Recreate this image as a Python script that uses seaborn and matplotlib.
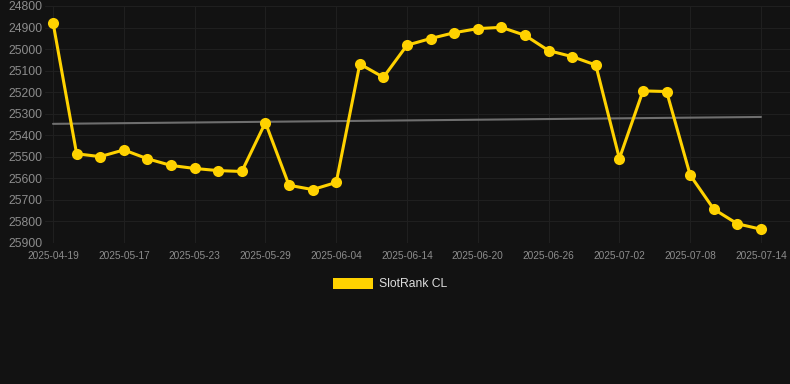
import numpy as np
import pandas as pd
import matplotlib
matplotlib.use("Agg")
import matplotlib.pyplot as plt
from matplotlib.patches import Patch
import seaborn as sns

dates = ["2025-04-19", "2025-05-13", "2025-05-15", "2025-05-17", "2025-05-19",
         "2025-05-21", "2025-05-23", "2025-05-25", "2025-05-27", "2025-05-29",
         "2025-05-31", "2025-06-02", "2025-06-04", "2025-06-08", "2025-06-11",
         "2025-06-14", "2025-06-16", "2025-06-18", "2025-06-20", "2025-06-22",
         "2025-06-24", "2025-06-26", "2025-06-28", "2025-06-30", "2025-07-02",
         "2025-07-04", "2025-07-06", "2025-07-08", "2025-07-10", "2025-07-12",
         "2025-07-14"]
rank = [24877, 25486, 25499, 25468, 25509, 25540, 25554, 25564, 25568, 25341,
        25632, 25652, 25619, 25069, 25131, 24982, 24951, 24924, 24905, 24899,
        24936, 25007, 25035, 25074, 25508, 25194, 25197, 25585, 25743, 25811,
        25836]
trend_ends = [25347, 25315]
y_ticks = [24800, 24900, 25000, 25100, 25200, 25300, 25400, 25500, 25600,
           25700, 25800, 25900]

df = pd.DataFrame({"i": np.arange(len(dates)), "date": dates, "rank": rank})

sns.set_style("dark")
plt.rcParams["font.family"] = ["Liberation Sans", "DejaVu Sans"]

bg = "#121212"
gold = "#FFD200"

fig = plt.figure(figsize=(7.9, 3.84), dpi=100, facecolor=bg)
ax = fig.add_axes([45 / 790, 1 - 243 / 384, 1 - 45 / 790, (243 - 6) / 384])
ax.set_facecolor(bg)

# trend line
ax.plot([df["i"].iloc[0], df["i"].iloc[-1]], trend_ends, color="#6e6e6e", lw=1.5, zorder=2)

sns.lineplot(data=df, x="i", y="rank", color=gold, lw=2.2, marker="o",
             markersize=8, markeredgewidth=0, ax=ax, zorder=3)

ax.set_ylim(25900, 24800)
ax.set_xlim(-0.34, 31.23)
ax.set_yticks(y_ticks)
ax.set_xticks(df["i"][::3])
ax.set_xticklabels(df["date"][::3])
ax.tick_params(axis="y", colors="#8c8c8c", labelsize=8.7, length=0, pad=1.5)
ax.tick_params(axis="x", colors="#8c8c8c", labelsize=7.3, length=0, pad=6)
ax.grid(True, color="#1f1f1f", lw=0.8)
ax.set_xlabel("")
ax.set_ylabel("")
for s in ax.spines.values():
    s.set_visible(False)

fig.legend(handles=[Patch(facecolor=gold, edgecolor="none")], labels=["SlotRank CL"],
           loc="center", bbox_to_anchor=(390 / 790, 1 - 284 / 384), frameon=False,
           handlelength=3.3, handleheight=1.0, handletextpad=0.5,
           labelcolor="#dddddd", fontsize=8.7)

fig.savefig("out.png", dpi=100, facecolor=bg)
